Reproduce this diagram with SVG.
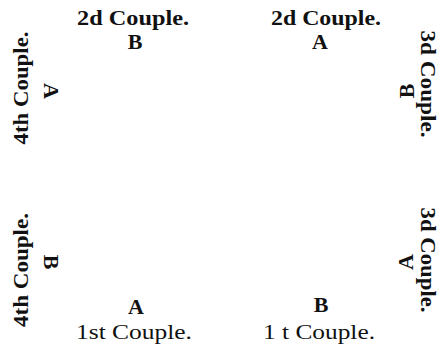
<svg xmlns="http://www.w3.org/2000/svg" width="442" height="347" viewBox="0 0 442 347">
<style>
.t{font-family:"Liberation Serif","Times New Roman",serif;font-size:22px;font-weight:bold;fill:#111;text-anchor:middle}
.l{font-family:"Liberation Serif","Times New Roman",serif;font-size:22px;font-weight:bold;fill:#111;text-anchor:middle}
.n{font-family:"Liberation Serif","Times New Roman",serif;font-size:22px;font-weight:normal;fill:#111;text-anchor:middle}
</style>
<rect width="442" height="347" fill="#fff"/>
<g id="couple2-left">
<text class="t" x="133" y="25" textLength="112" lengthAdjust="spacingAndGlyphs">2d Couple.</text>
<text class="l" x="135" y="49">B</text>
</g>
<g id="couple2-right">
<text class="t" x="326" y="25" textLength="110" lengthAdjust="spacingAndGlyphs">2d Couple.</text>
<text class="l" x="320" y="49">A</text>
</g>
<g id="couple4-top">
<text class="t" transform="translate(28,88) rotate(-90)" textLength="113" lengthAdjust="spacingAndGlyphs">4th Couple.</text>
<text class="l" transform="translate(44,91) rotate(90)">A</text>
</g>
<g id="couple4-bottom">
<text class="t" transform="translate(28,270) rotate(-90)" textLength="114" lengthAdjust="spacingAndGlyphs">4th Couple.</text>
<text class="l" transform="translate(44,262) rotate(90)">B</text>
</g>
<g id="couple3-top">
<text class="t" transform="translate(421,84) rotate(90)" textLength="107" lengthAdjust="spacingAndGlyphs">3d Couple.</text>
<text class="l" transform="translate(414,91) rotate(-90)">B</text>
</g>
<g id="couple3-bottom">
<text class="t" transform="translate(421,260) rotate(90)" textLength="105" lengthAdjust="spacingAndGlyphs">3d Couple.</text>
<text class="l" transform="translate(413,262) rotate(-90)">A</text>
</g>
<g id="couple1-left">
<text class="l" x="136" y="314">A</text>
<text class="n" x="134" y="339" textLength="116" lengthAdjust="spacingAndGlyphs">1st Couple.</text>
</g>
<g id="couple1-right">
<text class="l" x="321" y="312">B</text>
<text class="n" x="319" y="339" textLength="112" lengthAdjust="spacingAndGlyphs">1 t Couple.</text>
</g>
<g id="connectors"></g>
</svg>
